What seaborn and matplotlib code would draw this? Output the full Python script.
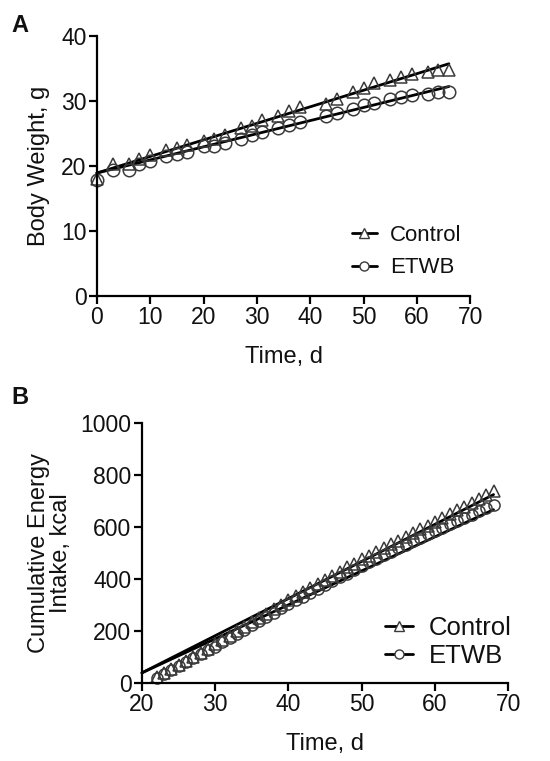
"""
Body weight and cumulative energy intake, Control vs ETWB
"""
import numpy as np
import pandas as pd
import matplotlib
matplotlib.use("Agg")
import matplotlib.pyplot as plt
from matplotlib.lines import Line2D
import seaborn as sns

sns.set_theme(style="ticks")
plt.rcParams['font.family'] = ['Liberation Sans', 'DejaVu Sans']
plt.rcParams['text.color'] = '#111111'
plt.rcParams['axes.labelcolor'] = '#111111'

# ---- Panel A: body weight (g) ----
bw_days = [0, 3, 6, 8, 10, 13, 15, 17, 20, 22, 24, 27, 29, 31, 34, 36, 38,
           43, 45, 48, 50, 52, 55, 57, 59, 62, 64, 66]
bw_control = [18.0, 20.3, 20.3, 21.0, 21.7, 22.5, 22.8, 23.2, 23.8, 24.2, 24.8,
              25.8, 26.2, 27.0, 27.6, 28.5, 29.1, 29.5, 30.3, 31.3, 32.0, 32.7,
              33.2, 33.7, 34.2, 34.5, 34.7, 34.8]
bw_etwb = [17.9, 19.4, 19.4, 20.3, 20.7, 21.5, 21.8, 22.2, 23.0, 23.0, 23.5,
           24.2, 24.7, 25.2, 25.8, 26.3, 26.8, 27.6, 28.2, 28.7, 29.4, 29.6,
           30.3, 30.6, 30.9, 31.0, 31.3, 31.4]
# fitted lines (end points)
bw_fit_days = [0, 66]
bw_fit_control = [18.9, 35.7]
bw_fit_etwb = [18.9, 32.2]

# ---- Panel B: cumulative energy intake (kcal) ----
ei_days = list(range(22, 69))
ei_control = [23, 38, 54, 69, 85, 101, 116, 132, 148, 165, 182, 199, 216, 233,
              250, 267, 284, 301, 318, 334, 350, 365, 381, 397, 412, 428, 444,
              459, 475, 489, 504, 518, 533, 547, 562, 576, 591, 605, 620, 634,
              649, 663, 678, 692, 707, 721, 736]
ei_etwb = [20, 35, 50, 65, 80, 95, 110, 125, 140, 156, 173, 189, 205, 221, 238,
           254, 270, 287, 303, 318, 332, 347, 362, 376, 391, 406, 420, 435, 450,
           463, 477, 490, 504, 517, 531, 544, 558, 571, 585, 597, 610, 622, 635,
           647, 660, 672, 685]
ei_fit_days = [20, 68]
ei_fit_control = [39, 724]
ei_fit_etwb = [39, 666]

EDGE = '#3a3a3a'


def style_axes(ax):
    sns.despine(ax=ax)
    for s in ['left', 'bottom']:
        ax.spines[s].set_linewidth(1.6)
        ax.spines[s].set_color('black')
    ax.tick_params(direction='out', length=5.5, width=1.6, colors='black',
                   labelsize=16.5, pad=2)
    for lbl in ax.get_xticklabels() + ax.get_yticklabels():
        lbl.set_color('#111111')


def draw_series(ax, days, ctrl, etwb, fdays, fctrl, fetwb, ms):
    sns.lineplot(x=fdays, y=fctrl, ax=ax, color='black', lw=2, clip_on=False)
    sns.lineplot(x=fdays, y=fetwb, ax=ax, color='black', lw=2, clip_on=False)
    sns.lineplot(x=days, y=ctrl, ax=ax, linestyle='', marker='^', markersize=ms,
                 markerfacecolor='none', markeredgecolor=EDGE, markeredgewidth=1.1,
                 clip_on=False)
    sns.lineplot(x=days, y=etwb, ax=ax, linestyle='', marker='o', markersize=ms,
                 markerfacecolor='none', markeredgecolor=EDGE, markeredgewidth=1.1,
                 clip_on=False)


def add_legend(ax, loc, fs, spacing):
    handles = [
        Line2D([], [], color='black', lw=2, marker='^', markersize=6.5,
               markerfacecolor='white', markeredgecolor=EDGE, markeredgewidth=1),
        Line2D([], [], color='black', lw=2, marker='o', markersize=6.5,
               markerfacecolor='white', markeredgecolor=EDGE, markeredgewidth=1),
    ]
    ax.legend(handles, ['Control', 'ETWB'], loc='lower left', bbox_to_anchor=loc,
              frameon=False, fontsize=fs, handlelength=1.1, handletextpad=0.6,
              labelspacing=spacing, borderaxespad=0)


fig = plt.figure(figsize=(5.5, 7.61), dpi=100)

# Panel A
axA = fig.add_axes([0.176, 0.611, 0.679, 0.342])
draw_series(axA, bw_days, bw_control, bw_etwb,
            bw_fit_days, bw_fit_control, bw_fit_etwb, ms=9)
axA.set_xlim(0, 70)
axA.set_ylim(0, 40)
axA.set_xticks(np.arange(0, 71, 10))
axA.set_yticks(np.arange(0, 41, 10))
axA.set_xlabel('Time, d', fontsize=17, labelpad=12)
axA.set_ylabel('Body Weight, g', fontsize=17, labelpad=8)
style_axes(axA)
add_legend(axA, (0.66, 0.034), 16, 0.52)

# Panel B
axB = fig.add_axes([0.258, 0.1025, 0.666, 0.342])
draw_series(axB, ei_days, ei_control, ei_etwb,
            ei_fit_days, ei_fit_control, ei_fit_etwb, ms=8)
axB.set_xlim(20, 70)
axB.set_ylim(0, 1000)
axB.set_xticks(np.arange(20, 71, 10))
axB.set_yticks(np.arange(0, 1001, 200))
axB.set_xlabel('Time, d', fontsize=17, labelpad=12)
axB.set_ylabel('Cumulative Energy\nIntake, kcal', fontsize=17, labelpad=6,
               linespacing=1.0)
style_axes(axB)
add_legend(axB, (0.635, 0.02), 18.5, 0.12)

fig.text(0.02, 0.967, 'A', fontsize=17, fontweight='bold', va='center')
fig.text(0.02, 0.478, 'B', fontsize=17, fontweight='bold', va='center')

plt.savefig('out.png', dpi=100)
plt.close()
